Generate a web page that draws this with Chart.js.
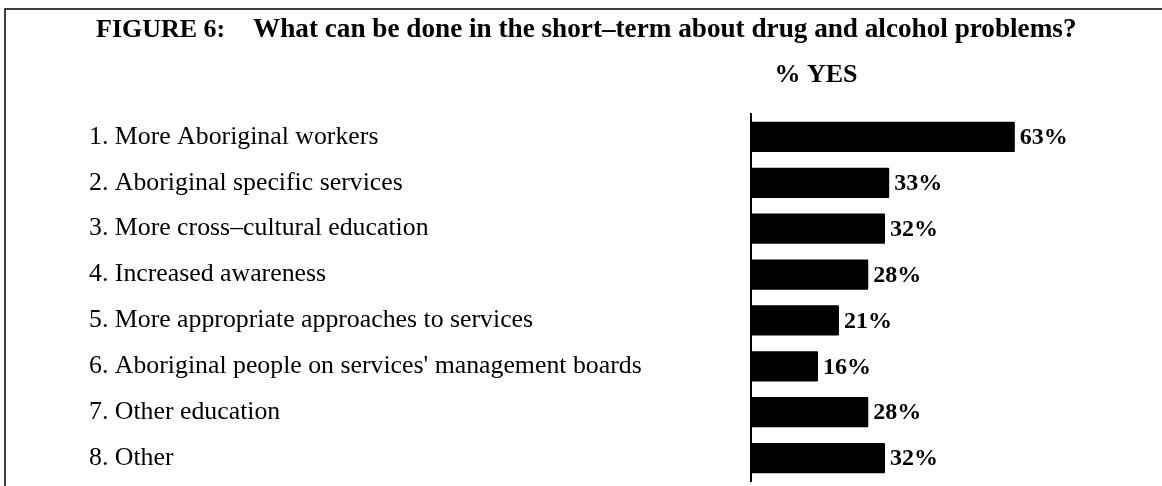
<!DOCTYPE html>
<html>
<head>
<meta charset="utf-8">
<script src="https://cdn.jsdelivr.net/npm/chart.js@4/dist/chart.umd.min.js"></script>
<style>
    html, body { margin: 0; padding: 0; background: #fff; }
    #wrap { position: relative; width: 1162px; height: 486px; }
</style>
</head>
<body>
<div id="wrap">
    <canvas id="short-term-chart"></canvas>
</div>
<script>
const categories = [
    '1. More Aboriginal workers',
    '2. Aboriginal specific services',
    '3. More cross\u2013cultural education',
    '4. Increased awareness',
    '5. More appropriate approaches to services',
    "6. Aboriginal people on services' management boards",
    '7. Other education',
    '8. Other'
];
const yesPercent = [63, 33, 32, 28, 21, 16, 28, 32];

const figureLabel = 'FIGURE 6:';
const figureTitle = 'What can be done in the short\u2013term about drug and alcohol problems?';
const seriesLabel = '% YES';

const SERIF = '"Liberation Serif", "Times New Roman", serif';

// frame, heading and the % labels at the bar ends
const decorations = {
    id: 'decorations',
    beforeDraw(chart) {
        const ctx = chart.ctx;
        ctx.save();
        ctx.fillStyle = '#fff';
        ctx.fillRect(0, 0, chart.width, chart.height);
        ctx.strokeStyle = '#000';
        ctx.lineWidth = 1.5;
        ctx.beginPath();
        ctx.moveTo(5, chart.height);
        ctx.lineTo(5, 9);
        ctx.lineTo(chart.width, 9);
        ctx.stroke();

        ctx.fillStyle = '#000';
        ctx.textBaseline = 'alphabetic';
        ctx.textAlign = 'left';
        ctx.font = 'bold 26px ' + SERIF;
        ctx.fillText(figureLabel, 96, 37);
        ctx.font = 'bold 27.2px ' + SERIF;
        ctx.fillText(figureTitle, 253, 37);
        ctx.font = 'bold 26px ' + SERIF;
        ctx.textAlign = 'center';
        ctx.fillText(seriesLabel, 816, 82);
        ctx.restore();
    },
    afterDatasetsDraw(chart) {
        const ctx = chart.ctx;
        const meta = chart.getDatasetMeta(0);
        ctx.save();
        ctx.fillStyle = '#000';
        ctx.font = 'bold 24px ' + SERIF;
        ctx.textAlign = 'left';
        ctx.textBaseline = 'middle';
        meta.data.forEach((bar, i) => {
            ctx.fillText(yesPercent[i] + '%', bar.x + 5, bar.y + 1);
        });
        ctx.restore();
    }
};

const ctx = document.getElementById('short-term-chart').getContext('2d');
new Chart(ctx, {
    type: 'bar',
    data: {
        labels: categories,
        datasets: [
            {
                label: seriesLabel,
                data: yesPercent,
                backgroundColor: '#000',
                borderWidth: 0,
                borderRadius: 1,
                barPercentage: 0.66,
                categoryPercentage: 1.0,
            }
        ],
    },
    options: {
        indexAxis: 'y',
        responsive: true,
        maintainAspectRatio: false,
        animation: false,
        layout: {
            padding: { top: 114, bottom: 5, left: 89, right: 76 }
        },
        plugins: {
            legend: { display: false },
            title: { display: false },
            tooltip: { enabled: false },
        },
        scales: {
            x: {
                display: false,
                min: 0,
                max: 80,
            },
            y: {
                afterFit: (scale) => {
                    scale.width = 662;
                    // labels sit inside the category bands, no extra room needed
                    scale.paddingTop = 0;
                    scale.paddingBottom = 0;
                },
                grid: { display: false },
                border: { display: true, color: '#000', width: 2 },
                ticks: {
                    crossAlign: 'far',
                    color: '#000',
                    padding: 0,
                    font: { family: SERIF, size: 25.8 },
                },
            },
        },
    },
    plugins: [decorations]
});
</script>
</body>
</html>
